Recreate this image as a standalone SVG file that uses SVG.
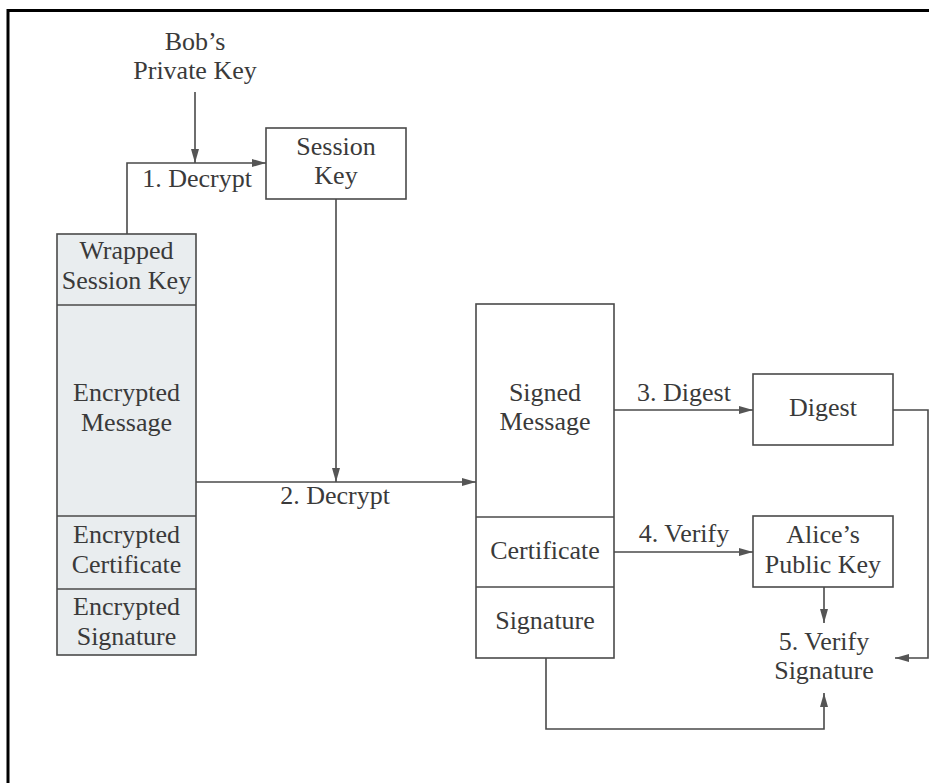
<svg xmlns="http://www.w3.org/2000/svg" width="929" height="783" viewBox="0 0 929 783">
<defs>
<style>
text{font-family:"Liberation Serif","Times New Roman","DejaVu Serif",serif;font-size:26px;fill:#3a3a3a;text-anchor:middle}
.box{fill:#ffffff;stroke:#4a4a4a;stroke-width:1.6}
.shaded{fill:#e9edef;stroke:#4a4a4a;stroke-width:1.6}
.div{stroke:#4a4a4a;stroke-width:1.6}
.conn{fill:none;stroke:#4a4a4a;stroke-width:1.6}
</style>
<marker id="arr" viewBox="0 0 14 8" refX="14" refY="4" markerWidth="14" markerHeight="8" markerUnits="userSpaceOnUse" orient="auto">
<path d="M0,0 L14,4 L0,8 Z" fill="#555"/>
</marker>
</defs>
<rect width="929" height="783" fill="#fff"/>
<path d="M8,783 V10.5 H929" fill="none" stroke="#000" stroke-width="3"/>

<g id="bob-key">
<text x="195" y="50">Bob’s</text>
<text x="195" y="79">Private Key</text>
</g>

<g id="session-key">
<rect class="box" x="266" y="128" width="140" height="71"/>
<text x="336" y="155">Session</text>
<text x="336" y="184">Key</text>
</g>

<g id="encrypted-package">
<rect class="shaded" x="57" y="234" width="139" height="421"/>
<line class="div" x1="57" y1="305" x2="196" y2="305"/>
<line class="div" x1="57" y1="516" x2="196" y2="516"/>
<line class="div" x1="57" y1="589" x2="196" y2="589"/>
<text x="126.5" y="259">Wrapped</text>
<text x="126.5" y="289">Session Key</text>
<text x="126.5" y="401">Encrypted</text>
<text x="126.5" y="431">Message</text>
<text x="126.5" y="543">Encrypted</text>
<text x="126.5" y="573">Certificate</text>
<text x="126.5" y="615">Encrypted</text>
<text x="126.5" y="645">Signature</text>
</g>

<g id="signed-package">
<rect class="box" x="476" y="304" width="138" height="354"/>
<line class="div" x1="476" y1="517" x2="614" y2="517"/>
<line class="div" x1="476" y1="587" x2="614" y2="587"/>
<text x="545" y="401">Signed</text>
<text x="545" y="430">Message</text>
<text x="545" y="559">Certificate</text>
<text x="545" y="629">Signature</text>
</g>

<g id="digest">
<rect class="box" x="753" y="374" width="140" height="71"/>
<text x="823" y="416">Digest</text>
</g>

<g id="alice-key">
<rect class="box" x="753" y="516" width="140" height="71"/>
<text x="823" y="543">Alice’s</text>
<text x="823" y="573">Public Key</text>
</g>

<g id="verify-signature">
<text x="824" y="650">5. Verify</text>
<text x="824" y="679">Signature</text>
</g>

<g id="connectors">
<line class="conn" x1="195" y1="92" x2="195" y2="163" marker-end="url(#arr)"/>
<path class="conn" d="M127,234 V163 H266" marker-end="url(#arr)"/>
<line class="conn" x1="336" y1="199" x2="336" y2="482" marker-end="url(#arr)"/>
<line class="conn" x1="196" y1="482" x2="476" y2="482" marker-end="url(#arr)"/>
<line class="conn" x1="614" y1="410" x2="753" y2="410" marker-end="url(#arr)"/>
<line class="conn" x1="614" y1="552" x2="753" y2="552" marker-end="url(#arr)"/>
<line class="conn" x1="824" y1="587" x2="824" y2="623" marker-end="url(#arr)"/>
<path class="conn" d="M893,410 H928 V658 H895" marker-end="url(#arr)"/>
<path class="conn" d="M546,658 V729 H824 V693" marker-end="url(#arr)"/>
<text x="197" y="187">1. Decrypt</text>
<text x="335" y="504">2. Decrypt</text>
<text x="684" y="401">3. Digest</text>
<text x="684" y="542">4. Verify</text>
</g>
</svg>
